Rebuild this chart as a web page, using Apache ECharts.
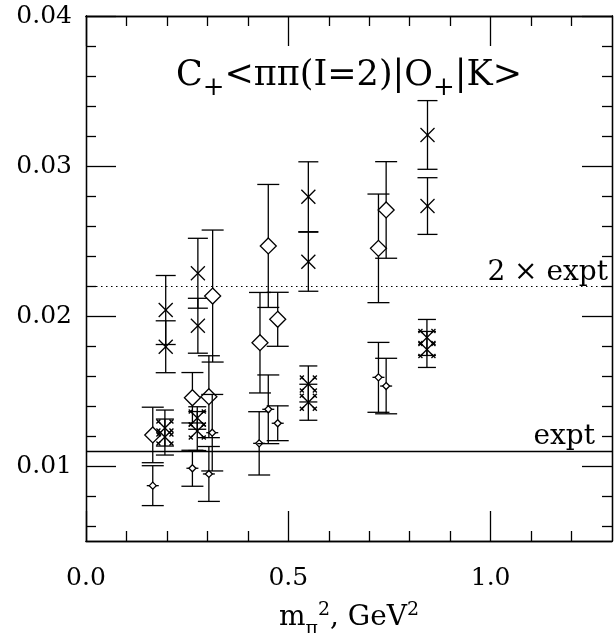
<!DOCTYPE html>
<html>
<head>
<meta charset="utf-8">
<script src="https://cdn.jsdelivr.net/npm/echarts@6.0.0/dist/echarts.min.js"></script>
<style>
  html, body { margin: 0; padding: 0; background: #fff; }
  #chart { width: 614px; height: 633px; }
</style>
</head>
<body>
<div id="chart"></div>
<script>
const FONT = 'DejaVu Serif';
const INK = '#000';
const LW = 1.3;

// Large crosses: m_pi^2 (GeV^2), amplitude, error
const crossX   = [0.197, 0.197, 0.2765, 0.2765, 0.5495, 0.5495, 0.844, 0.844];
const crossY   = [0.0204, 0.01795, 0.02285, 0.01935, 0.02795, 0.02362, 0.03207, 0.02733];
const crossErr = [0.0023, 0.00173, 0.00233, 0.00183, 0.00233, 0.00197, 0.00229, 0.00189];

// Large open diamonds
const diamondX   = [0.165, 0.263, 0.3037, 0.313, 0.430, 0.4505, 0.4738, 0.7228, 0.7418];
const diamondY   = [0.01207, 0.01455, 0.01462, 0.02133, 0.01822, 0.02467, 0.01978, 0.02451, 0.02707];
const diamondErr = [0.00185, 0.00168, 0.00273, 0.0044, 0.00335, 0.0041, 0.0018, 0.00362, 0.00322];

// Small diamonds with a horizontal tick
const smallX   = [0.165, 0.263, 0.3037, 0.312, 0.428, 0.4505, 0.4738, 0.7228, 0.7418];
const smallY   = [0.00869, 0.00985, 0.00947, 0.01222, 0.01151, 0.01378, 0.01285, 0.01591, 0.01533];
const smallErr = [0.00133, 0.0012, 0.00183, 0.00255, 0.00211, 0.00229, 0.00116, 0.00233, 0.00185];

// Crosses with small x's at the tips
const fancyX   = [0.195, 0.195, 0.275, 0.275, 0.5495, 0.5495, 0.8426, 0.8426];
const fancyY   = [0.01253, 0.01193, 0.01320, 0.01233, 0.01547, 0.01425, 0.01857, 0.01777];
const fancyErr = [0.0012, 0.0012, 0.00075, 0.0013, 0.0012, 0.0012, 0.0012, 0.0012];

// Reference levels
const exptValue = 0.011;
const twiceExptValue = 0.022;

// Tick positions
const xMajorTicks = [0, 0.5, 1.0];
const xMinorTicks = [0.1, 0.2, 0.3, 0.4, 0.6, 0.7, 0.8, 0.9, 1.1, 1.2];
const yMajorTicks = [0.01, 0.02, 0.03, 0.04];
const yMinorTicks = [0.006, 0.008, 0.012, 0.014, 0.016, 0.018, 0.022, 0.024, 0.026, 0.028,
                     0.032, 0.034, 0.036, 0.038];

const zip = (xs, ys, es) => xs.map((x, i) => [x, ys[i], es[i]]);

const strokeStyle = { stroke: INK, lineWidth: LW, fill: null };
function seg(x1, y1, x2, y2) {
  return { type: 'line', shape: { x1, y1, x2, y2 }, style: strokeStyle };
}
function diamond(cx, cy, r) {
  return {
    type: 'polygon',
    shape: { points: [[cx, cy - r], [cx + r, cy], [cx, cy + r], [cx - r, cy]] },
    style: { fill: '#fff', stroke: INK, lineWidth: LW }
  };
}

const markers = {
  cross(cx, cy) {
    const r = 7;
    return [seg(cx - r, cy - r, cx + r, cy + r), seg(cx - r, cy + r, cx + r, cy - r)];
  },
  diamond(cx, cy) {
    return [diamond(cx, cy, 8)];
  },
  small(cx, cy) {
    return [seg(cx - 6, cy, cx + 6, cy), diamond(cx, cy, 3.5)];
  },
  fancy(cx, cy) {
    const r = 6.5, s = 2;
    const out = [seg(cx - r, cy - r, cx + r, cy + r), seg(cx - r, cy + r, cx + r, cy - r)];
    [[-1, -1], [1, -1], [-1, 1], [1, 1]].forEach(([dx, dy]) => {
      const tx = cx + dx * r, ty = cy + dy * r;
      out.push(seg(tx - s, ty - s, tx + s, ty + s), seg(tx - s, ty + s, tx + s, ty - s));
    });
    return out;
  }
};

function errorBarSeries(name, data, kind, capHalf) {
  return {
    name,
    type: 'custom',
    xAxisIndex: 0,
    yAxisIndex: 0,
    silent: true,
    clip: false,
    encode: { x: 0, y: 1 },
    data,
    renderItem(params, api) {
      const x = api.value(0), y = api.value(1), e = api.value(2);
      const c = api.coord([x, y]);
      const hi = api.coord([x, y + e]);
      const lo = api.coord([x, y - e]);
      const children = [
        seg(c[0], hi[1], c[0], lo[1]),
        seg(c[0] - capHalf, hi[1], c[0] + capHalf, hi[1]),
        seg(c[0] - capHalf, lo[1], c[0] + capHalf, lo[1])
      ].concat(markers[kind](c[0], c[1]));
      return { type: 'group', children };
    }
  };
}

const tickLine = { color: INK, width: LW };
function xAxisDef(position, values, length, extra) {
  return Object.assign({
    type: 'value', min: 0, max: 1.3, position,
    axisLine: { show: true, onZero: false, lineStyle: tickLine },
    axisTick: { show: true, inside: true, length, customValues: values, lineStyle: tickLine },
    axisLabel: { show: false },
    splitLine: { show: false }
  }, extra || {});
}
function yAxisDef(position, values, length, extra) {
  return Object.assign({
    type: 'value', min: 0.005, max: 0.04, position,
    axisLine: { show: true, onZero: false, lineStyle: tickLine },
    axisTick: { show: true, inside: true, length, customValues: values, lineStyle: tickLine },
    axisLabel: { show: false },
    splitLine: { show: false }
  }, extra || {});
}

const chart = echarts.init(document.getElementById('chart'), null, { renderer: 'canvas' });

chart.setOption({
  animation: false,
  backgroundColor: '#fff',
  grid: { left: 86, top: 16, width: 526, height: 525, containLabel: false, outerBoundsMode: 'none' },
  xAxis: [
    xAxisDef('bottom', xMajorTicks, 30, {
      axisLabel: {
        show: true, customValues: xMajorTicks, margin: 25,
        formatter: v => v.toFixed(1),
        fontFamily: FONT, fontSize: 25, color: INK
      },
      name: '{a|m}{b|π}{c|2}{a|, GeV}{c|2}',
      nameLocation: 'middle',
      nameGap: 55,
      nameTextStyle: {
        rich: {
          a: { fontFamily: FONT, fontSize: 28, color: INK },
          b: { fontFamily: FONT, fontSize: 19, color: INK, padding: [24, 0, 0, 0] },
          c: { fontFamily: FONT, fontSize: 19, color: INK, padding: [0, 0, 15, 0] }
        }
      }
    }),
    xAxisDef('bottom', xMinorTicks, 10),
    xAxisDef('top', xMajorTicks, 30),
    xAxisDef('top', xMinorTicks, 10)
  ],
  yAxis: [
    yAxisDef('left', yMajorTicks, 30, {
      axisLabel: {
        show: true, customValues: yMajorTicks, margin: 14,
        formatter: v => v.toFixed(2),
        fontFamily: FONT, fontSize: 25, color: INK
      }
    }),
    yAxisDef('left', yMinorTicks, 10),
    yAxisDef('right', yMajorTicks, 30),
    yAxisDef('right', yMinorTicks, 10)
  ],
  graphic: [{
    type: 'text',
    x: 349,
    y: 76,
    silent: true,
    style: {
      text: '{a|C}{s|+}{a|<ππ(I=2)|O}{s|+}{a||K>}',
      align: 'center',
      verticalAlign: 'middle',
      rich: {
        a: { fontFamily: FONT, fontSize: 35, fill: INK },
        s: { fontFamily: FONT, fontSize: 26, fill: INK, padding: [24, 0, 0, 0] }
      }
    }
  }],
  series: [
    {
      type: 'line',
      data: [],
      silent: true,
      markLine: {
        silent: true,
        symbol: 'none',
        animation: false,
        precision: 4,
        data: [
          {
            yAxis: exptValue,
            lineStyle: { color: INK, width: LW, type: 'solid' },
            label: {
              show: true, position: 'insideEndTop', formatter: 'expt',
              fontFamily: FONT, fontSize: 28, color: INK,
              lineHeight: 18, distance: 5, padding: [0, 12, 0, 0]
            }
          },
          {
            yAxis: twiceExptValue,
            lineStyle: { color: INK, width: 1.2, type: [1.5, 3.5] },
            label: {
              show: true, position: 'insideEndTop', formatter: '2 × expt',
              fontFamily: FONT, fontSize: 28, color: INK,
              lineHeight: 18, distance: 4, padding: [0, 0, 0, 0]
            }
          }
        ]
      }
    },
    errorBarSeries('cross', zip(crossX, crossY, crossErr), 'cross', 10),
    errorBarSeries('diamond', zip(diamondX, diamondY, diamondErr), 'diamond', 11),
    errorBarSeries('small', zip(smallX, smallY, smallErr), 'small', 11),
    errorBarSeries('fancy', zip(fancyX, fancyY, fancyErr), 'fancy', 9)
  ]
});
</script>
</body>
</html>
